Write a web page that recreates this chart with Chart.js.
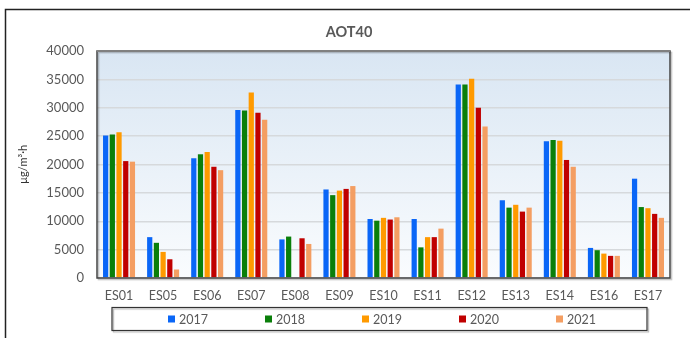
<!DOCTYPE html>
<html>
<head>
<meta charset="utf-8">
<script src="https://cdn.jsdelivr.net/npm/chart.js@4/dist/chart.umd.min.js"></script>
<style>
  html, body { margin: 0; padding: 0; background: #fff; }
  #c { display: block; }
</style>
</head>
<body>
<canvas id="c" width="690" height="338"></canvas>
<script>
const stations = ['ES01', 'ES05', 'ES06', 'ES07', 'ES08', 'ES09', 'ES10', 'ES11', 'ES12', 'ES13', 'ES14', 'ES16', 'ES17'];
const years = ['2017', '2018', '2019', '2020', '2021'];
const aot2017 = [25100, 7200, 21100, 29600, 6800, 15600, 10400, 10400, 34100, 13700, 24100, 5300, 17500];
const aot2018 = [25300, 6200, 21800, 29500, 7300, 14600, 10100, 5400, 34100, 12400, 24300, 4900, 12500];
const aot2019 = [25700, 4600, 22200, 32700, null, 15400, 10600, 7200, 35100, 12900, 24200, 4300, 12300];
const aot2020 = [20600, 3300, 19600, 29100, 7000, 15700, 10300, 7200, 30000, 11700, 20800, 3900, 11300];
const aot2021 = [20500, 1500, 19000, 27900, 6000, 16200, 10700, 8700, 26700, 12400, 19600, 3900, 10600];
const yTicks = [0, 5000, 10000, 15000, 20000, 25000, 30000, 35000, 40000];

const series = [aot2017, aot2018, aot2019, aot2020, aot2021];
const colors = ['#0a66f7', '#0a7f0a', '#ff9a00', '#c00000', '#f49e62'];
const FONT = 'Lato, "Open Sans", sans-serif';
const TXT = '#595959';

// background, frame, plot border, title and boxed legend
const decor = {
  id: 'decor',
  beforeDraw(chart) {
    const { ctx, chartArea: a } = chart;
    ctx.save();
    ctx.fillStyle = '#fff';
    ctx.fillRect(0, 0, chart.width, chart.height);
    ctx.strokeStyle = '#222';
    ctx.lineWidth = 1.5;
    ctx.beginPath();
    ctx.moveTo(5.5, chart.height);
    ctx.lineTo(5.5, 9.5);
    ctx.lineTo(chart.width, 9.5);
    ctx.stroke();
    const g = ctx.createLinearGradient(0, a.top, 0, a.bottom);
    g.addColorStop(0, '#d9e6f3');
    g.addColorStop(1, '#fafcfe');
    ctx.fillStyle = g;
    ctx.fillRect(a.left, a.top, a.right - a.left, a.bottom - a.top);
    ctx.restore();
  },
  afterDatasetsDraw(chart) {
    const { ctx, chartArea: a } = chart;
    ctx.save();
    ctx.shadowColor = 'rgba(0,0,0,0.25)';
    ctx.shadowOffsetX = 1.5;
    ctx.shadowOffsetY = 1.5;
    ctx.shadowBlur = 1;
    ctx.strokeStyle = '#444';
    ctx.lineWidth = 1.5;
    ctx.strokeRect(a.left, a.top, a.right - a.left, a.bottom - a.top);
    ctx.shadowColor = 'transparent';
    ctx.strokeStyle = '#808080';
    ctx.lineWidth = 2;
    ctx.beginPath();
    ctx.moveTo(a.left, a.top);
    ctx.lineTo(a.right, a.top);
    ctx.stroke();
    ctx.restore();
  },
  afterDraw(chart) {
    const { ctx } = chart;
    ctx.save();
    ctx.fillStyle = TXT;
    ctx.font = 'bold 14.5px ' + FONT;
    ctx.textAlign = 'center';
    ctx.textBaseline = 'middle';
    ctx.fillText('AOT40', 349, 32);

    // legend box
    ctx.shadowColor = 'rgba(0,0,0,0.3)';
    ctx.shadowOffsetX = 1.5;
    ctx.shadowOffsetY = 1.5;
    ctx.shadowBlur = 1;
    ctx.strokeStyle = '#333';
    ctx.lineWidth = 1.2;
    ctx.strokeRect(112, 307.5, 535, 23);
    ctx.shadowColor = 'transparent';

    ctx.font = '12.5px ' + FONT;
    ctx.textAlign = 'left';
    chart.data.datasets.forEach((ds, i) => {
      const x = 168 + i * 97;
      ctx.fillStyle = ds.backgroundColor;
      ctx.fillRect(x, 315.5, 7, 7);
      ctx.fillStyle = TXT;
      ctx.fillText(ds.label, x + 11, 319.5);
    });
    ctx.restore();
  }
};

new Chart(document.getElementById('c'), {
  type: 'bar',
  data: {
    labels: stations,
    datasets: years.map((y, i) => ({
      label: y,
      data: series[i],
      backgroundColor: colors[i],
      borderWidth: 0,
      barPercentage: 0.78,
      categoryPercentage: 0.76
    }))
  },
  options: {
    responsive: false,
    animation: false,
    events: [],
    layout: { padding: { left: 5, right: 20, top: 51, bottom: 32 } },
    plugins: {
      legend: { display: false },
      title: { display: false },
      tooltip: { enabled: false }
    },
    scales: {
      x: {
        afterFit: (s) => { s.height = 28; },
        grid: { display: false, drawTicks: false },
        border: { display: false },
        ticks: { color: TXT, font: { family: FONT, size: 12.5 }, padding: 10, maxRotation: 0 }
      },
      y: {
        min: 0,
        max: 40000,
        afterFit: (s) => { s.width = 92; },
        afterBuildTicks: (s) => { s.ticks = yTicks.map((v) => ({ value: v })); },
        grid: { color: '#d6d9dc', lineWidth: 1.5, drawTicks: false },
        border: { display: false },
        ticks: { color: TXT, font: { family: FONT, size: 13 }, padding: 13, callback: (v) => String(v) },
        title: {
          display: true,
          text: 'µg/m³·h',
          color: '#333',
          font: { family: FONT, size: 11 },
          padding: { top: 12, bottom: 0 }
        }
      }
    }
  },
  plugins: [decor]
});
</script>
</body>
</html>
